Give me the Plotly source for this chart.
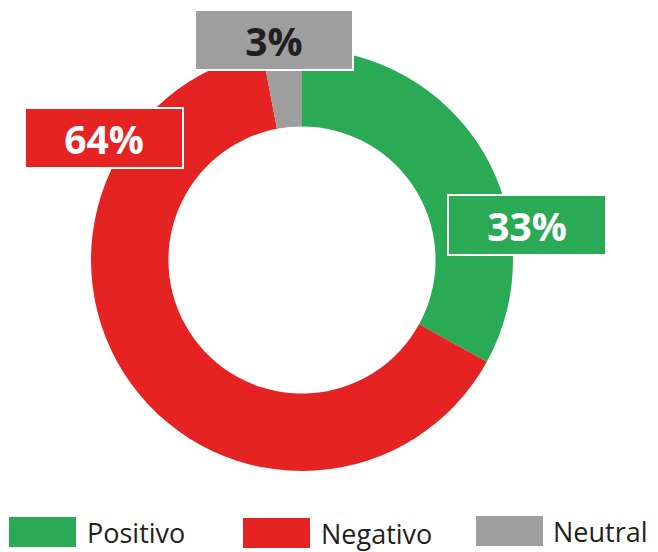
import plotly.graph_objects as go

labels = ["Positivo", "Negativo", "Neutral"]
values = [33, 64, 3]
colors = ["#2BAA55", "#E42322", "#9E9E9E"]
label_texts = ["33%", "64%", "3%"]
label_text_colors = ["#FFFFFF", "#FFFFFF", "#231F20"]

# page body has an 8px margin, so the figure is sized to fill the rest of the window
OFF = 8
W, H = 658 - OFF, 552 - OFF

def px(x):
    return (x - OFF) / W

def py(y):
    return 1 - (y - OFF) / H

# label box centres and legend positions (window pixels)
label_boxes = [(527, 225), (103.5, 138), (274, 40.5)]
legend_rects = [(9, 517, 76, 547), (243, 518, 310, 548), (476, 516, 543, 546)]
legend_text_x = [85, 319, 551]

fig = go.Figure()
fig.add_trace(go.Pie(
    labels=labels,
    values=values,
    marker=dict(colors=colors, line=dict(width=0)),
    hole=0.633,
    sort=False,
    direction="clockwise",
    rotation=0,
    textinfo="none",
    showlegend=False,
    domain=dict(x=[px(302 - 211), px(302 + 211)],
                y=[py(471), py(49)]),
))

annotations = []
for (cx, cy), txt, tc, bg in zip(label_boxes, label_texts, label_text_colors, colors):
    annotations.append(dict(
        x=px(cx), y=py(cy), xref="paper", yref="paper",
        xanchor="center", yanchor="middle",
        text="<b>%s</b>" % txt, showarrow=False,
        font=dict(family="Open Sans", size=39, color=tc, weight=800),
        bgcolor=bg, bordercolor="#FFFFFF", borderwidth=2, borderpad=0,
        width=156, height=58, align="center", valign="middle",
    ))

shapes = []
for (x0, y0, x1, y1), c, lab, tx in zip(legend_rects, colors, labels, legend_text_x):
    shapes.append(dict(type="rect", xref="paper", yref="paper",
                       x0=px(x0), x1=px(x1), y0=py(y1), y1=py(y0),
                       fillcolor=c, line=dict(width=0)))
    annotations.append(dict(
        x=px(tx), y=py((y0 + y1) / 2 + 0.5), xref="paper", yref="paper",
        xanchor="left", yanchor="middle", text=lab, showarrow=False,
        font=dict(family="Open Sans", size=27, color="#231F20"),
    ))

fig.update_layout(
    width=W, height=H,
    margin=dict(l=0, r=0, t=0, b=0),
    paper_bgcolor="#FFFFFF", plot_bgcolor="#FFFFFF",
    annotations=annotations, shapes=shapes,
)

fig.write_html("out.html")
